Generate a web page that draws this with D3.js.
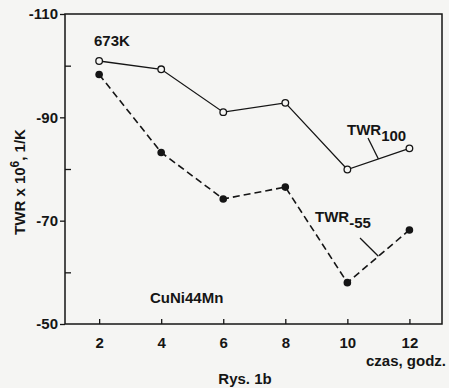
<!DOCTYPE html>
<html>
<head>
<meta charset="utf-8">
<script src="https://cdn.jsdelivr.net/npm/d3@7"></script>
<style>
  body { margin: 0; background: #f5f5f3; }
  svg { display: block; }
  text { font-family: "Liberation Sans", Arial, sans-serif; fill: #151515; }
</style>
</head>
<body>
<div id="chart"></div>
<script>
// czas, godz.
const hours = [2, 4, 6, 8, 10, 12];
// TWR x 10^6, 1/K
const twr100 = [-100.9, -99.3, -91.0, -92.8, -79.9, -84.0];
const twr55 = [-98.3, -83.2, -74.2, -76.5, -58.0, -68.2];
const yLabelTicks = [-110, -90, -70, -50];
const yMinorTicks = [-100, -80, -60];

const W = 449, H = 388;
const margin = { top: 14, right: 7, bottom: 64, left: 65 };
const width = W - margin.left - margin.right;
const height = H - margin.top - margin.bottom;

const svg = d3.select('#chart').append('svg')
  .attr('width', W)
  .attr('height', H);

const g = svg.append('g')
  .attr('transform', `translate(${margin.left}, ${margin.top})`);

const x = d3.scaleLinear().domain([0.9, 13.05]).range([0, width]);
const y = d3.scaleLinear().domain([-50, -110]).range([height, 0]);

const ink = '#151515';
const fs = '15px';

// frame
g.append('rect')
  .attr('width', width).attr('height', height)
  .attr('fill', 'none').attr('stroke', ink).attr('stroke-width', 1.5);

// y axis, labelled ticks point outward, minor ones inward
const yAxis = g.append('g').attr('class', 'axis axis-y')
  .call(d3.axisLeft(y).tickValues(yLabelTicks).tickSize(5).tickPadding(2).tickFormat(d => String(d)));
yAxis.select('.domain').remove();
yAxis.selectAll('line').attr('stroke', ink).attr('stroke-width', 1.3);
yAxis.selectAll('text').style('font-size', fs).attr('fill', ink).attr('font-weight', 'bold');

g.append('g').attr('class', 'axis axis-y-minor')
  .call(d3.axisRight(y).tickValues(yMinorTicks).tickSize(6).tickFormat(''))
  .call(a => a.select('.domain').remove())
  .selectAll('line').attr('stroke', ink).attr('stroke-width', 1.3);

// x axis, ticks point up
const xAxis = g.append('g').attr('class', 'axis axis-x')
  .attr('transform', `translate(0, ${height})`)
  .call(d3.axisBottom(x).tickValues(hours).tickSizeInner(-5).tickSizeOuter(0).tickPadding(13));
xAxis.select('.domain').remove();
xAxis.selectAll('line').attr('stroke', ink).attr('stroke-width', 1.3);
xAxis.selectAll('text').style('font-size', fs).attr('fill', ink).attr('font-weight', 'bold');

// lines
const line = vals => d3.line()
  .x((d, i) => x(hours[i]))
  .y(d => y(d))(vals);

g.append('path')
  .attr('d', line(twr100))
  .attr('fill', 'none').attr('stroke', ink).attr('stroke-width', 1.3);

g.append('path')
  .attr('d', line(twr55))
  .attr('fill', 'none').attr('stroke', ink).attr('stroke-width', 1.6)
  .attr('stroke-dasharray', '7,4');

// markers
g.selectAll('.pt100').data(twr100).enter().append('circle')
  .attr('class', 'pt100')
  .attr('cx', (d, i) => x(hours[i])).attr('cy', d => y(d))
  .attr('r', 3.3)
  .attr('fill', '#f5f5f3').attr('stroke', ink).attr('stroke-width', 1.3);

g.selectAll('.pt55').data(twr55).enter().append('circle')
  .attr('class', 'pt55')
  .attr('cx', (d, i) => x(hours[i])).attr('cy', d => y(d))
  .attr('r', 3.8)
  .attr('fill', ink);

// series labels with leader lines
function seriesLabel(vals, sub, tx, ty, lx, ly) {
  // point halfway between the last two points
  const px = (x(hours[4]) + x(hours[5])) / 2;
  const py = (y(vals[4]) + y(vals[5])) / 2;
  g.append('line')
    .attr('x1', lx).attr('y1', ly).attr('x2', px).attr('y2', py)
    .attr('stroke', ink).attr('stroke-width', 1.3);
  const t = g.append('text').attr('x', tx).attr('y', ty)
    .style('font-size', fs).attr('font-weight', 'bold');
  t.append('tspan').text('TWR');
  t.append('tspan').attr('dy', 6).text(sub);
}
seriesLabel(twr100, '100', 282, 121, 303, 124);
seriesLabel(twr55, '-55', 250, 208, 295, 224);

// annotations
g.append('text').attr('x', 29).attr('y', 32)
  .style('font-size', fs).attr('font-weight', 'bold').text('673K');
g.append('text').attr('x', 85).attr('y', 289)
  .style('font-size', fs).attr('font-weight', 'bold').text('CuNi44Mn');

// axis titles
svg.append('text')
  .attr('x', 446).attr('y', 366).attr('text-anchor', 'end')
  .style('font-size', fs).attr('font-weight', 'bold').text('czas, godz.');

const yt = svg.append('text')
  .attr('transform', 'translate(25, 182) rotate(-90)')
  .attr('text-anchor', 'middle')
  .style('font-size', fs).attr('font-weight', 'bold');
yt.append('tspan').text('TWR x 10');
yt.append('tspan').attr('dy', -6).style('font-size', '12px').text('6');
yt.append('tspan').attr('dy', 6).text(', 1/K');

svg.append('text')
  .attr('x', 245).attr('y', 384).attr('text-anchor', 'middle')
  .style('font-size', fs).attr('font-weight', 'bold').text('Rys. 1b');
</script>
</body>
</html>
